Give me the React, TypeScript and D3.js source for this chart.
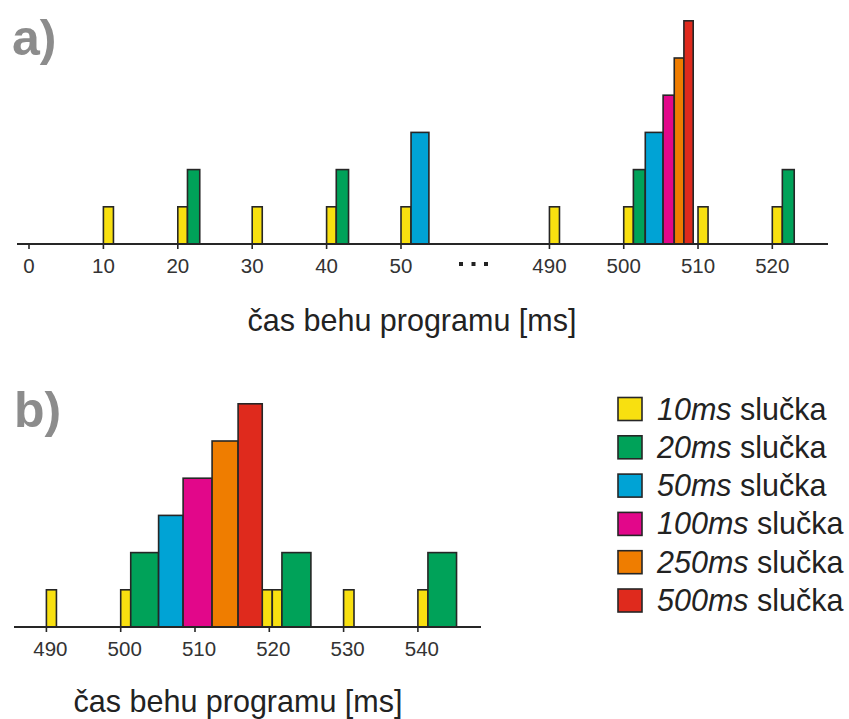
import React from "react";
import * as d3 from "d3";

const seriesNames = ["10ms", "20ms", "50ms", "100ms", "250ms", "500ms"];
const seriesColors = ["#f8e010", "#00a259", "#00a3d5", "#e2078a", "#ef7d00", "#df2a1d"];
const legendSuffix = " slučka";

// Panel a: [start, end] in ms, level = series index + 1
const aYellow: [number, number][] = [[10, 11.35], [20, 21.3], [30, 31.35], [40, 41.3], [50, 51.35], [490, 491.35], [500, 501.3], [510, 511.35], [520, 521.35]];
const aGreen: [number, number][] = [[21.3, 22.95], [41.3, 42.95], [501.3, 502.9], [521.35, 522.95]];
const aBlue: [number, number][] = [[51.35, 53.75], [502.9, 505.3]];
const aMagenta: [number, number][] = [[505.3, 506.8]];
const aOrange: [number, number][] = [[506.8, 508.1]];
const aRed: [number, number][] = [[508.1, 509.35]];
const aTicks = [0, 10, 20, 30, 40, 50, 490, 500, 510, 520];

// Panel b
const bYellow: [number, number][] = [[490, 491.35], [500, 501.35], [519.05, 520.4], [520.4, 521.7], [530, 531.4], [540, 541.35]];
const bGreen: [number, number][] = [[501.35, 505.1], [521.7, 525.6], [541.35, 545.2]];
const bBlue: [number, number][] = [[505.1, 508.4]];
const bMagenta: [number, number][] = [[508.4, 512.3]];
const bOrange: [number, number][] = [[512.3, 515.8]];
const bRed: [number, number][] = [[515.8, 519.05]];
const bTicks = [490, 500, 510, 520, 530, 540];

const axisTitle = "čas behu programu [ms]";

const aSeries = [aYellow, aGreen, aBlue, aMagenta, aOrange, aRed];
const bSeries = [bYellow, bGreen, bBlue, bMagenta, bOrange, bRed];

const FONT = "'Liberation Sans', Arial, sans-serif";
const STROKE = "#262626";

export default function App() {
  const xa = d3.scaleLinear().domain([0, 55, 485, 530]).range([29, 438.2, 512.3, 846.6]);
  const ya = d3.scaleLinear().domain([0, 6]).range([244, 244 - 6 * 37.2]);
  const xb = d3.scaleLinear().domain([500, 550]).range([120.7, 120.7 + 50 * 7.43]);
  const yb = d3.scaleLinear().domain([0, 6]).range([627, 627 - 6 * 37.2]);

  const bars = (series: [number, number][][], x: any, y: any, key: string) =>
    series.flatMap((list, si) =>
      list.map(([s, e], i) => (
        <rect
          key={`${key}-${si}-${i}`}
          x={x(s)}
          y={y(si + 1)}
          width={x(e) - x(s)}
          height={y(0) - y(si + 1)}
          fill={seriesColors[si]}
          stroke={STROKE}
          strokeWidth={1.6}
        />
      ))
    );

  return (
    <svg width={849} height={719} style={{ position: "absolute", left: 0, top: 0, background: "#fff" }} fontFamily={FONT}>
      {/* Panel a */}
      <text x={12} y={55} fontSize={50} fontWeight="bold" fill="#8c8c8c">a)</text>
      {bars(aSeries, xa, ya, "a")}
      <line x1={17} x2={828} y1={ya(0)} y2={ya(0)} stroke={STROKE} strokeWidth={2} />
      {aTicks.map((t) => (
        <g key={`at${t}`}>
          <line x1={xa(t)} x2={xa(t)} y1={ya(0)} y2={ya(0) + 5} stroke={STROKE} strokeWidth={1.6} />
          <text x={xa(t)} y={273} fontSize={20.5} textAnchor="middle" fill="#333">{t}</text>
        </g>
      ))}
      {[0, 1, 2].map((i) => (
        <rect key={`dot${i}`} x={459 + i * 12.5} y={262} width={4} height={4} fill="#222" />
      ))}
      <text x={412} y={331} fontSize={30.5} textAnchor="middle" fill="#222">{axisTitle}</text>

      {/* Panel b */}
      <text x={14} y={427} fontSize={50} fontWeight="bold" fill="#8c8c8c">b)</text>
      {bars(bSeries, xb, yb, "b")}
      <line x1={14} x2={481} y1={yb(0)} y2={yb(0)} stroke={STROKE} strokeWidth={2} />
      {bTicks.map((t) => (
        <g key={`bt${t}`}>
          <line x1={xb(t)} x2={xb(t)} y1={yb(0)} y2={yb(0) + 5} stroke={STROKE} strokeWidth={1.6} />
          <text x={xb(t) + 4} y={656} fontSize={20.5} textAnchor="middle" fill="#333">{t}</text>
        </g>
      ))}
      <text x={238} y={712} fontSize={30.5} textAnchor="middle" fill="#222">{axisTitle}</text>

      {/* Legend */}
      {seriesNames.map((name, i) => {
        const cy = 409 + i * 38.3;
        return (
          <g key={`lg${i}`}>
            <rect x={618} y={cy - 11.5} width={24} height={23} fill={seriesColors[i]} stroke={STROKE} strokeWidth={1.6} />
            <text x={657} y={cy + 10.5} fontSize={30.5} fill="#222">
              <tspan fontStyle="italic">{name}</tspan>
              <tspan>{legendSuffix}</tspan>
            </text>
          </g>
        );
      })}
    </svg>
  );
}
